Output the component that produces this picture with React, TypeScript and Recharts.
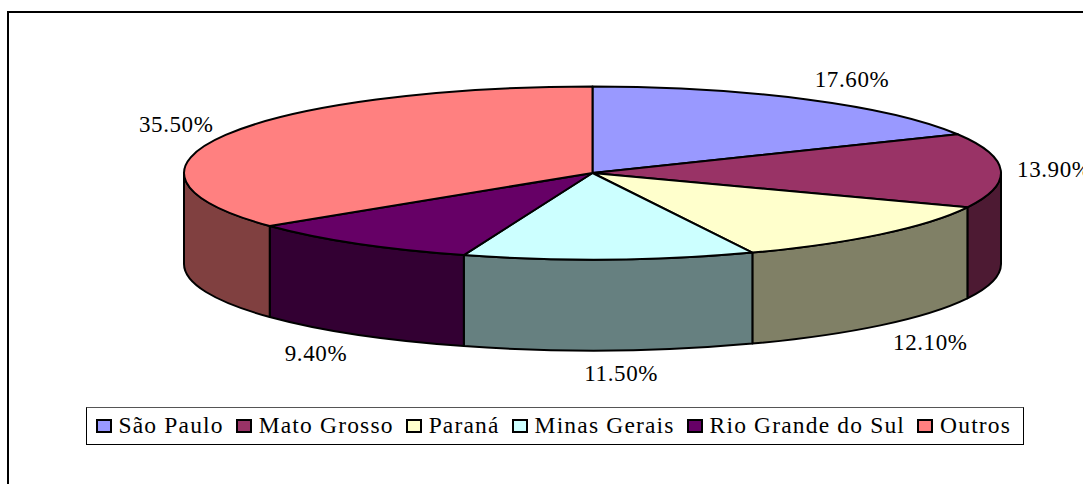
import React from "react";
import { PieChart, Pie, Legend } from "recharts";

const states = ["São Paulo", "Mato Grosso", "Paraná", "Minas Gerais", "Rio Grande do Sul", "Outros"];
const shares = [17.6, 13.9, 12.1, 11.5, 9.4, 35.5];
const topColors = ["#9999FF", "#993366", "#FFFFCC", "#CCFFFF", "#660066", "#FF8080"];
const wallColors = ["#4D4D80", "#4D1A33", "#808066", "#668080", "#330033", "#804040"];
const labelShiftX = [19, 4, 15, 10, -12, -5];

const CX = 592.5;
const CY = 173;
const RX = 408.5;
const RY = 86.5;
const DEPTH = 91;
const FONT = '"Liberation Serif", "Times New Roman", serif';

const rows = states.map((name, i) => ({ name, value: shares[i], fill: topColors[i] }));
const wallRows = states.map((name, i) => ({ name, value: shares[i], fill: wallColors[i] }));

const pt = (theta: number) => {
  const t = (theta * Math.PI) / 180;
  return { x: CX + RX * Math.cos(t), y: CY - RY * Math.sin(t) };
};

const TopFace = (p: any) => {
  const a = pt(p.startAngle);
  const b = pt(p.endAngle);
  const large = Math.abs(p.startAngle - p.endAngle) > 180 ? 1 : 0;
  return (
    <path
      d={`M${CX},${CY} L${a.x},${a.y} A${RX},${RY} 0 ${large} 1 ${b.x},${b.y} Z`}
      fill={p.fill}
      stroke="#000"
      strokeWidth={2}
      strokeLinejoin="round"
    />
  );
};

const WallFace = (p: any) => {
  const s = Math.min(p.startAngle, 0);
  const e = Math.max(p.endAngle, -180);
  if (s <= e) return <g />;
  const a = pt(s);
  const b = pt(e);
  return (
    <path
      d={`M${a.x},${a.y} A${RX},${RY} 0 0 1 ${b.x},${b.y} L${b.x},${b.y + DEPTH} A${RX},${RY} 0 0 0 ${a.x},${a.y + DEPTH} Z`}
      fill={p.fill}
      stroke="#000"
      strokeWidth={2}
      strokeLinejoin="round"
    />
  );
};

const renderLabel = (p: any) => {
  const t = (p.midAngle * Math.PI) / 180;
  const sin = Math.sin(t);
  const x = CX + 458 * Math.cos(t) + labelShiftX[p.index];
  const y = CY - 110 * sin + (sin < 0 ? DEPTH : 0);
  return (
    <text
      x={x}
      y={y}
      textAnchor="middle"
      dominantBaseline="central"
      fontFamily={FONT}
      fontSize={23}
      letterSpacing={0.6}
      fill="#000"
    >
      {`${Number(p.value).toFixed(2)}%`}
    </text>
  );
};

const LegendBox = ({ payload }: any) => {
  const items = states.map((name, i) => ({ name, color: topColors[i] }));
  return (
    <div
      style={{
        boxSizing: "border-box",
        width: 938,
        height: 38,
        border: "1.5px solid #000",
        borderTopColor: "#555",
        background: "#fff",
        display: "flex",
        alignItems: "center",
        paddingLeft: 8.5,
        paddingBottom: 1,
        fontFamily: FONT,
        fontSize: 23.5,
        letterSpacing: 1.17,
        color: "#000",
        whiteSpace: "nowrap",
      }}
    >
      {items
        .filter((it) => (payload || []).some((p: any) => p.value === it.name))
        .map((item) => (
          <span key={item.name} style={{ display: "flex", alignItems: "center", marginRight: 12 }}>
            <span
              style={{
                boxSizing: "border-box",
                display: "inline-block",
                width: 16,
                height: 14,
                border: "2px solid #000",
                background: item.color,
                marginRight: 7,
              }}
            />
            {item.name}
          </span>
        ))}
    </div>
  );
};

export default function App() {
  return (
    <div style={{ position: "absolute", left: 0, top: 0, width: 1083, height: 484, overflow: "hidden", background: "#fff" }}>
      <div
        style={{
          position: "absolute",
          left: 7,
          top: 11,
          width: 1083,
          height: 484,
          borderTop: "2px solid #000",
          borderLeft: "2px solid #000",
        }}
      />
      <div style={{ position: "absolute", left: 0, top: 0 }}>
        <PieChart width={1083} height={484} margin={{ top: 0, right: 0, bottom: 0, left: 0 }}>
          <Pie
            data={wallRows}
            dataKey="value"
            nameKey="name"
            cx={CX}
            cy={CY}
            innerRadius={0}
            outerRadius={RX}
            startAngle={90}
            endAngle={-270}
            shape={WallFace}
            legendType="none"
            isAnimationActive={false}
          />
          <Pie
            data={rows}
            dataKey="value"
            nameKey="name"
            cx={CX}
            cy={CY}
            innerRadius={0}
            outerRadius={RX}
            startAngle={90}
            endAngle={-270}
            shape={TopFace}
            label={renderLabel}
            labelLine={false}
            isAnimationActive={false}
          />
          <Legend
            content={<LegendBox />}
            layout="horizontal"
            wrapperStyle={{ position: "absolute", left: 86, top: 407, width: 938, height: 38, bottom: "auto" }}
          />
        </PieChart>
      </div>
    </div>
  );
}
